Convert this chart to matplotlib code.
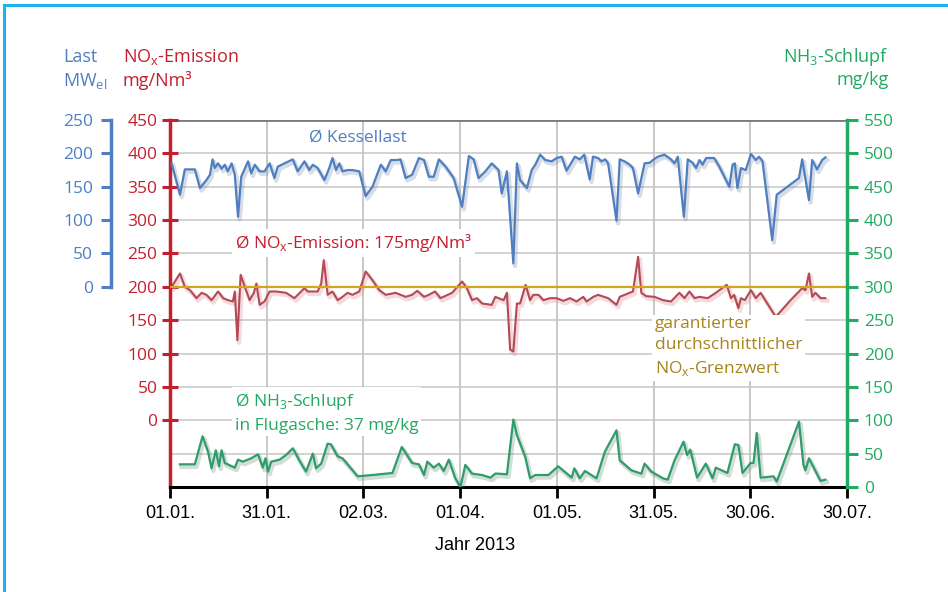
import matplotlib
matplotlib.use('Agg')
import matplotlib.pyplot as plt
import matplotlib.patheffects as pe
from matplotlib.lines import Line2D

FONT = ['Open Sans', 'DejaVu Sans']
COND = ['Liberation Sans', 'DejaVu Sans']
plt.rcParams['font.family'] = FONT

# ---------------- data ----------------
x_ticks = [0, 30, 60, 90, 120, 150, 180, 210]
x_labels = ['01.01.', '31.01.', '02.03.', '01.04.', '01.05.', '31.05.', '30.06.', '30.07.']

load_days = [0.5, 3.1, 4.6, 7.7, 9.3, 11.3, 12.4, 13.2, 13.9, 14.9, 16.0, 17.0, 17.9, 19.1, 20.1,
             21.1, 22.1, 24.2, 25.2, 26.3, 27.8, 29.3, 30.9, 32.4, 33.4, 35.5, 38.1, 39.6, 41.7,
             43.2, 44.3, 45.8, 47.9, 49.4, 50.4, 51.5, 52.5, 53.5, 55.1, 56.6, 58.7, 60.7, 62.8,
             65.4, 66.9, 68.5, 70.5, 71.5, 73.1, 75.1, 77.2, 78.8, 80.3, 81.8, 83.4, 85.5, 88.0,
             90.6, 92.7, 94.2, 95.7, 97.8, 99.8, 101.9, 102.9, 104.5, 106.5, 107.6, 108.6, 110.7,
             112.2, 113.3, 114.8, 116.4, 118.4, 119.9, 121.5, 123.0, 125.6, 127.1, 128.5, 130.2,
             131.2, 132.8, 133.8, 135.0, 135.9, 138.5, 139.5, 141.0, 142.6, 143.6, 145.2, 147.2,
             148.8, 149.8, 151.3, 153.4, 155.4, 156.5, 157.5, 159.4, 160.6, 162.1, 163.2, 164.2,
             165.2, 166.3, 168.8, 170.4, 173.5, 174.5, 175.2, 176.0, 177.1, 178.6, 180.2, 181.7,
             182.7, 183.8, 186.8, 188.2, 195.1, 196.1, 198.2, 199.2, 200.7, 202.3, 203.3]
load_mw = [185, 138, 176, 176, 148, 160, 168, 191, 178, 185, 177, 183, 173, 185, 168,
           105, 165, 188, 170, 183, 173, 173, 185, 163, 180, 185, 191, 173, 188,
           175, 183, 178, 160, 178, 193, 175, 185, 173, 175, 175, 173, 136, 150,
           183, 173, 190, 190, 191, 163, 168, 193, 190, 165, 165, 191, 180, 163,
           120, 196, 191, 163, 173, 185, 175, 140, 173, 35, 185, 160, 148,
           175, 183, 198, 190, 188, 193, 195, 174, 195, 191, 198, 161,
           195, 193, 188, 191, 185, 99, 191, 188, 183, 178, 140, 185,
           186, 190, 195, 198, 191, 185, 195, 105, 191, 186, 178, 190,
           183, 193, 193, 180, 150, 183, 185, 148, 178, 175, 199, 190,
           195, 188, 70, 138, 163, 191, 130, 190, 176, 190, 194]

nox_days = [0.5, 3.1, 4.6, 6.2, 8.2, 9.8, 11.3, 12.9, 14.9, 16.5, 18.0, 19.5, 20.1, 20.9, 21.9,
            23.2, 24.7, 26.0, 26.8, 27.8, 29.3, 30.9, 33.0, 36.0, 38.6, 41.7, 42.7, 45.8, 46.9,
            47.7, 48.9, 50.4, 52.0, 53.5, 55.1, 56.6, 58.7, 60.7, 62.8, 64.9, 66.9, 70.0, 73.1,
            75.1, 76.7, 78.8, 80.3, 82.2, 83.9, 87.5, 90.6, 92.1, 93.7, 95.2, 96.8, 99.8, 100.9,
            101.9, 103.5, 104.5, 105.5, 106.5, 107.6, 108.6, 110.3, 111.7, 112.7, 114.3, 115.8,
            117.9, 119.9, 122.0, 124.1, 126.1, 128.2, 129.2, 131.3, 132.8, 135.9, 138.5, 139.5,
            143.6, 145.2, 146.2, 147.7, 150.3, 152.9, 155.4, 158.0, 159.6, 161.1, 162.7, 164.2,
            166.8, 169.3, 172.7, 174.0, 175.0, 176.3, 177.1, 178.3, 180.2, 181.7, 183.2, 187.9,
            192.5, 196.1, 197.1, 198.2, 199.2, 200.2, 201.8, 203.3]
nox_vals = [200, 220, 200, 195, 183, 191, 188, 180, 193, 183, 180, 178, 193, 120, 218,
            200, 180, 191, 205, 173, 178, 193, 193, 191, 183, 198, 193, 193, 205,
            240, 188, 193, 180, 185, 191, 188, 193, 223, 210, 195, 188, 191, 185,
            188, 194, 185, 188, 193, 183, 191, 208, 198, 180, 183, 175, 173, 185,
            183, 180, 191, 106, 103, 175, 175, 203, 180, 188, 188, 180,
            183, 183, 179, 183, 178, 185, 178, 185, 188, 183, 173, 185,
            193, 245, 191, 186, 185, 180, 178, 191, 183, 193, 183, 185,
            183, 191, 203, 183, 188, 168, 183, 180, 195, 183, 191, 155,
            180, 198, 195, 220, 185, 191, 183, 183]

nh3_days = [3.1, 7.7, 10.1, 11.8, 12.9, 14.2, 15.2, 16.0, 17.0, 20.1, 21.1, 22.6, 25.2, 27.3,
            28.8, 29.6, 30.4, 31.4, 34.0, 36.0, 38.1, 40.1, 42.2, 44.3, 45.3, 46.9, 48.9, 49.9,
            52.0, 53.5, 55.6, 58.2, 62.8, 69.0, 71.9, 75.1, 77.2, 78.8, 79.8, 81.8, 83.4, 84.9,
            86.5, 88.5, 90.1, 91.6, 93.7, 96.8, 99.4, 100.9, 101.9, 104.5, 106.5, 107.6, 110.2,
            111.7, 113.3, 117.4, 120.4, 124.6, 125.4, 127.1, 128.7, 132.3, 134.9, 138.5, 139.5,
            143.1, 146.2, 147.2, 149.3, 152.9, 154.4, 156.5, 159.3, 160.4, 161.4, 163.5, 166.2,
            168.3, 169.3, 172.9, 175.2, 176.3, 177.6, 180.1, 181.0, 182.0, 183.2, 187.2, 188.2,
            195.1, 196.5, 197.1, 198.2, 201.8, 203.3]
nh3_vals = [34, 34, 76, 53, 28, 55, 31, 55, 36, 29, 41, 38, 43, 49,
            29, 43, 23, 38, 41, 48, 58, 40, 23, 50, 28, 35, 65, 64,
            46, 43, 31, 16, 18, 21, 60, 36, 34, 18, 38, 29, 35, 24,
            41, 13, 0, 33, 20, 18, 14, 20, 20, 19, 101, 78, 45,
            13, 18, 18, 31, 14, 28, 13, 24, 13, 53, 85, 40,
            25, 20, 35, 23, 13, 11, 40, 68, 48, 56, 14, 35,
            13, 29, 21, 64, 63, 21, 36, 36, 81, 14, 16, 8,
            98, 33, 25, 43, 9, 11]

nox_limit = 200
load_ticks = [0, 50, 100, 150, 200, 250]
nox_ticks = [0, 50, 100, 150, 200, 250, 300, 350, 400, 450]
nox_grid = [-50, 0, 50, 100, 150, 200, 250, 300, 350, 400]
nh3_ticks = [0, 50, 100, 150, 200, 250, 300, 350, 400, 450, 500, 550]

# ---------------- colours ----------------
C_BLUE = '#4d7fc2'
C_RED = '#c41f2e'
C_GREEN = '#22aa62'
C_GOLD = '#a8841c'
L_BLUE = '#4f7fbf'
L_RED = '#b34a55'
L_GREEN = '#2f9c6c'

W, H = 948, 592
fig = plt.figure(figsize=(W / 100, H / 100), dpi=100)
L, R, T, B = 170, 847, 120, 487
ax = fig.add_axes([L / W, 1 - B / H, (R - L) / W, (B - T) / H])
ax.set_xlim(0, 210)
ax.set_ylim(-100, 450)
ax_g = ax.twinx()
ax_g.set_ylim(0, 550)
ax_b = ax.twinx()
ax_b.set_ylim(-300, 250)

# frame around figure
fig.add_artist(Line2D([4 / W, 4 / W], [0, 1 - 5 / H], color='#1db4ec', lw=2.2))
fig.add_artist(Line2D([4 / W, 1], [1 - 5 / H, 1 - 5 / H], color='#1db4ec', lw=2.2))

# grid (on host axes, so annotation boxes can cover it)
for gy in nox_grid:
    ax.axhline(gy, color='#cfcfcf', lw=1.3, zorder=0)
for gx in x_ticks[1:-1]:
    ax.axvline(gx, color='#c4c4c4', lw=1.3, zorder=0)
ax.axhline(nox_ticks[-1], color='#7a7a7a', lw=2.0, zorder=0)

# limit line
ax.axhline(nox_limit, color='#d8a418', lw=1.6, zorder=3)

def shadow(col):
    return [pe.SimpleLineShadow(offset=(1.2, -1.8), shadow_color=col, alpha=0.3, linewidth=3.2),
            pe.Normal()]

ax.plot(nox_days, nox_vals, color=L_RED, lw=1.5, zorder=2, path_effects=shadow('#d88a8f'))
ax_g.plot(nh3_days, nh3_vals, color=L_GREEN, lw=1.6, zorder=2, path_effects=shadow('#6f8f80'))
ax_b.plot(load_days, load_mw, color=L_BLUE, lw=1.6, zorder=2, path_effects=shadow('#7a8fb0'))

# x axis
ax.set_xticks(x_ticks)
ax.set_xticklabels(x_labels, family=COND, fontsize=13, color='black')
ax.tick_params(axis='x', direction='out', length=8, width=2, color='black', pad=5)
ax.spines['bottom'].set_color('black')
ax.spines['bottom'].set_linewidth(2.2)
ax.spines['top'].set_visible(False)
ax.spines['right'].set_visible(False)
ax.spines['left'].set_color(C_RED)
ax.spines['left'].set_linewidth(2.5)
ax.set_yticks(nox_ticks)
ax.set_yticklabels([str(v) for v in nox_ticks], fontsize=12.5, color=C_RED)
ax.tick_params(axis='y', direction='inout', length=12, width=2.2, color=C_RED, pad=3)

for a in (ax_g, ax_b):
    for s in a.spines.values():
        s.set_visible(False)
    a.tick_params(axis='x', bottom=False, labelbottom=False, top=False)

ax_g.spines['right'].set_visible(True)
ax_g.spines['right'].set_color(C_GREEN)
ax_g.spines['right'].set_linewidth(2.5)
ax_g.set_yticks(nh3_ticks)
ax_g.set_yticklabels([str(v) for v in nh3_ticks], fontsize=12.5, color=C_GREEN)
ax_g.tick_params(axis='y', direction='out', length=8, width=2.2, color=C_GREEN, pad=4)

ax_b.yaxis.tick_left()
ax_b.spines['left'].set_visible(True)
ax_b.spines['left'].set_position(('axes', -59 / (R - L)))
ax_b.spines['left'].set_bounds(0, 250)
ax_b.spines['left'].set_color(C_BLUE)
ax_b.spines['left'].set_linewidth(2.5)
ax_b.set_yticks(load_ticks)
ax_b.set_yticklabels([str(v) for v in load_ticks], fontsize=12.5, color=C_BLUE)
ax_b.tick_params(axis='y', direction='out', length=7, width=2.2, color=C_BLUE, pad=6)

# axis titles
def ftxt(x, y, s, col, ha='left', size=13):
    fig.text(x / W, 1 - y / H, s, color=col, ha=ha, va='center', fontsize=size)

ftxt(63, 57, 'Last', C_BLUE)
ftxt(63, 81, 'MW$_\\mathregular{el}$', C_BLUE)
ftxt(123, 57, 'NO$_\\mathregular{x}$-Emission', C_RED)
ftxt(123, 80, 'mg/Nm³', C_RED)
ftxt(889, 57, 'NH$_\\mathregular{3}$-Schlupf', C_GREEN, ha='right')
ftxt(889, 80, 'mg/kg', C_GREEN, ha='right')
fig.text(475 / W, 1 - 545 / H, 'Jahr 2013', family=COND, fontsize=13, ha='center', va='center')

# annotations
wb = dict(facecolor='white', edgecolor='none', pad=2)
ax.text(0.278, 0.951, 'Ø Kessellast', transform=ax.transAxes, color=C_BLUE, fontsize=12.5,
        ha='center', va='center', zorder=4)
ax.text(0.096, 0.665, 'Ø NO$_\\mathregular{x}$-Emission: 175mg/Nm³', transform=ax.transAxes,
        color=C_RED, fontsize=12.5, ha='left', va='center', bbox=wb, zorder=4)
ax.text(0.096, 0.203, 'Ø NH$_\\mathregular{3}$-Schlupf\nin Flugasche: 37 mg/kg',
        transform=ax.transAxes, color=C_GREEN, fontsize=12.5, ha='left', va='center',
        linespacing=1.45, bbox=wb, zorder=4)
ax.text(0.716, 0.381, 'garantierter\ndurchschnittlicher\nNO$_\\mathregular{x}$-Grenzwert',
        transform=ax.transAxes, color=C_GOLD, fontsize=12.5, ha='left', va='center',
        linespacing=1.4, bbox=wb, zorder=4)

fig.savefig('out.png', dpi=100)
